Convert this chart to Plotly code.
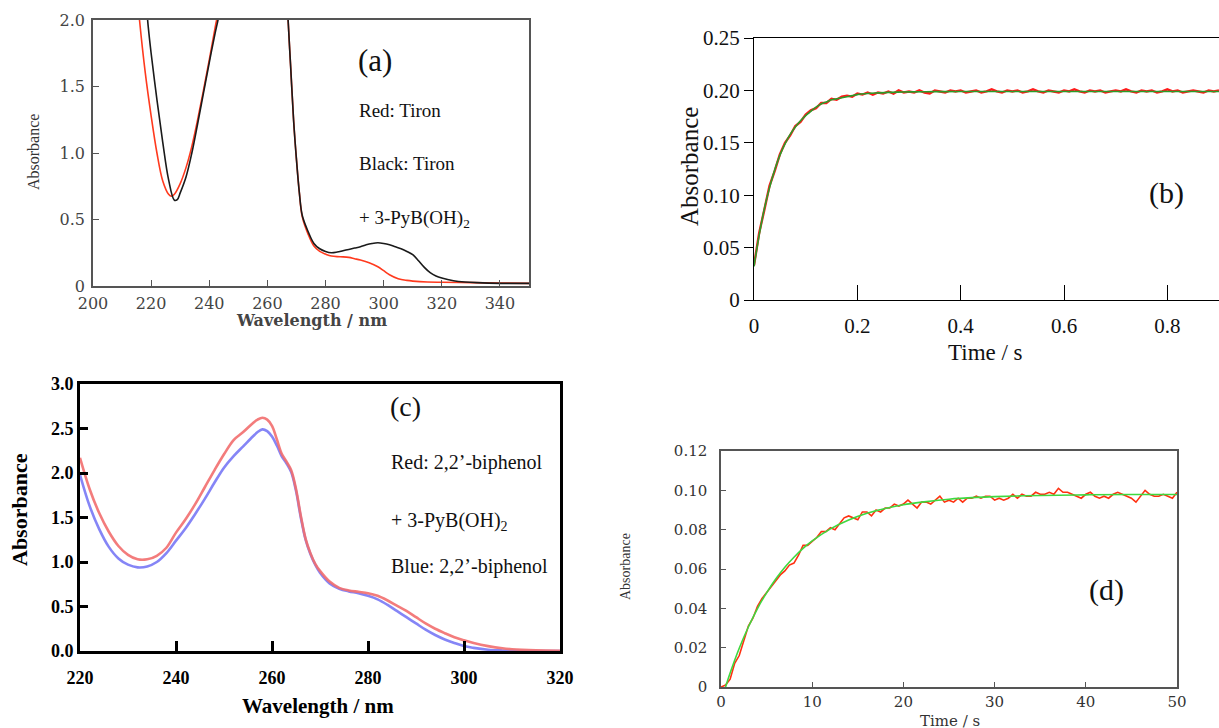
import plotly.graph_objects as go

W, H = 1219, 728

# ---------------- Panel (a): UV spectra Tiron ----------------
a_wl_red = [212, 216, 218, 220, 222, 224, 226, 227, 228, 230,
            232, 234, 236, 238, 240, 242, 243, 246, 255, 265,
            267, 268, 269, 270, 271, 272, 274, 276, 278, 280,
            282, 285, 288, 290, 292, 295, 298, 300, 302, 305,
            308, 310, 315, 320, 330, 340, 350]
a_abs_red = [3.0, 2.0, 1.6, 1.28, 1.00, 0.79, 0.69, 0.675, 0.69, 0.77,
             0.89, 1.05, 1.25, 1.47, 1.70, 1.94, 2.06, 2.5, 3.0, 3.0,
             2.05, 1.65, 1.25, 0.95, 0.70, 0.52, 0.39, 0.30, 0.26, 0.24,
             0.225, 0.22, 0.215, 0.205, 0.195, 0.175, 0.145, 0.115, 0.085, 0.055,
             0.042, 0.037, 0.03, 0.028, 0.025, 0.022, 0.02]
a_wl_black = [214, 218, 219, 220, 222, 224, 226, 228, 229, 230,
              232, 234, 236, 238, 240, 242, 243, 244, 246, 255,
              265, 267, 268, 269, 270, 271, 272, 274, 276, 278,
              280, 282, 284, 286, 288, 290, 292, 294, 296, 298,
              300, 302, 304, 306, 308, 310, 312, 314, 316, 318,
              320, 324, 328, 332, 340, 350]
a_abs_black = [3.0, 2.2, 1.95, 1.75, 1.40, 1.08, 0.80, 0.645, 0.65, 0.70,
               0.82, 1.00, 1.22, 1.45, 1.68, 1.90, 2.0, 2.12, 2.4, 3.0,
               3.0, 2.05, 1.65, 1.25, 0.95, 0.70, 0.53, 0.41, 0.32, 0.28,
               0.26, 0.25, 0.255, 0.265, 0.275, 0.285, 0.295, 0.31, 0.32, 0.325,
               0.32, 0.31, 0.295, 0.28, 0.26, 0.235, 0.19, 0.14, 0.10, 0.075,
               0.06, 0.04, 0.03, 0.025, 0.02, 0.02]
a_xticks = [200, 220, 240, 260, 280, 300, 320, 340]
a_yticks = [0, 0.5, 1.0, 1.5, 2.0]
a_ylabels = ["0", "0.5", "1.0", "1.5", "2.0"]

# ---------------- Panel (b): kinetics fast ----------------
b_raw_t = [i / 100 for i in range(91)]
b_raw_a = [0.033, 0.064, 0.086, 0.109, 0.123, 0.139, 0.150, 0.157, 0.166, 0.170,
           0.177, 0.181, 0.183, 0.188, 0.188, 0.192, 0.191, 0.194, 0.195, 0.194,
           0.197, 0.196, 0.198, 0.196, 0.198, 0.197, 0.199, 0.197, 0.200, 0.198,
           0.199, 0.198, 0.200, 0.198, 0.197, 0.200, 0.199, 0.198, 0.200, 0.199,
           0.200, 0.198, 0.199, 0.200, 0.198, 0.199, 0.201, 0.199, 0.198, 0.200,
           0.199, 0.200, 0.198, 0.199, 0.201, 0.199, 0.198, 0.200, 0.199, 0.198,
           0.200, 0.199, 0.201, 0.199, 0.198, 0.200, 0.199, 0.200, 0.198, 0.199,
           0.200, 0.199, 0.201, 0.199, 0.198, 0.200, 0.199, 0.200, 0.198, 0.199,
           0.201, 0.199, 0.200, 0.198, 0.199, 0.200, 0.199, 0.198, 0.200, 0.199,
           0.200]
b_fit_t = [0, 0.01, 0.02, 0.03, 0.04, 0.05, 0.06, 0.07, 0.08, 0.09,
           0.10, 0.11, 0.12, 0.13, 0.14, 0.15, 0.16, 0.17, 0.18, 0.19,
           0.20, 0.22, 0.24, 0.26, 0.28, 0.30, 0.35, 0.40, 0.50, 0.60,
           0.70, 0.80, 0.90]
b_fit_a = [0.032, 0.062, 0.087, 0.107, 0.124, 0.138, 0.149, 0.158, 0.165, 0.171,
           0.176, 0.180, 0.184, 0.187, 0.189, 0.191, 0.192, 0.193, 0.194, 0.195,
           0.196, 0.197, 0.1976, 0.1981, 0.1984, 0.1986, 0.1988, 0.199, 0.199, 0.199,
           0.199, 0.199, 0.199]
b_xticks = [0, 0.2, 0.4, 0.6, 0.8]
b_xlabels = ["0", "0.2", "0.4", "0.6", "0.8"]
b_yticks = [0, 0.05, 0.10, 0.15, 0.20, 0.25]
b_ylabels = ["0", "0.05", "0.10", "0.15", "0.20", "0.25"]

# ---------------- Panel (c): biphenol spectra ----------------
c_wl = [220, 222, 224, 226, 228, 230, 232, 234, 236, 238,
        240, 242, 244, 246, 248, 250, 252, 254, 256, 257,
        258, 259, 260, 261, 262, 263, 264, 265, 266, 267,
        268, 269, 270, 272, 274, 276, 278, 280, 282, 284,
        286, 288, 290, 292, 294, 296, 298, 300, 302, 305,
        308, 310, 315, 320]
c_red = [2.17, 1.82, 1.55, 1.34, 1.18, 1.08, 1.03, 1.03, 1.07, 1.16,
         1.33, 1.48, 1.65, 1.84, 2.03, 2.21, 2.37, 2.46, 2.56, 2.60,
         2.62, 2.60, 2.53, 2.38, 2.22, 2.13, 2.03, 1.82, 1.52, 1.26,
         1.10, 0.98, 0.90, 0.78, 0.71, 0.68, 0.665, 0.65, 0.62, 0.57,
         0.51, 0.45, 0.38, 0.31, 0.25, 0.20, 0.155, 0.12, 0.09, 0.055,
         0.03, 0.02, 0.008, 0.003]
c_blue = [1.98, 1.63, 1.37, 1.17, 1.04, 0.97, 0.94, 0.95, 1.00, 1.10,
          1.24, 1.38, 1.54, 1.71, 1.89, 2.06, 2.19, 2.30, 2.41, 2.46,
          2.49, 2.47, 2.41, 2.31, 2.19, 2.11, 2.01, 1.80, 1.50, 1.25,
          1.09, 0.97, 0.88, 0.76, 0.70, 0.67, 0.65, 0.62, 0.58, 0.52,
          0.45, 0.38, 0.31, 0.24, 0.18, 0.13, 0.09, 0.055, 0.035, 0.015,
          0.006, 0.003, 0.0, 0.0]
c_xticks = [220, 240, 260, 280, 300, 320]
c_yticks = [0, 0.5, 1.0, 1.5, 2.0, 2.5, 3.0]
c_ylabels = ["0.0", "0.5", "1.0", "1.5", "2.0", "2.5", "3.0"]

# ---------------- Panel (d): kinetics slow ----------------
d_raw_t = [i * 0.5 for i in range(101)]
d_raw_a = [0.000, 0.001, 0.004, 0.012, 0.016, 0.024, 0.031, 0.035, 0.041, 0.045,
           0.048, 0.051, 0.054, 0.057, 0.059, 0.062, 0.063, 0.067, 0.072, 0.072,
           0.074, 0.076, 0.079, 0.079, 0.081, 0.080, 0.083, 0.086, 0.087, 0.086,
           0.085, 0.089, 0.089, 0.087, 0.090, 0.089, 0.091, 0.091, 0.093, 0.092,
           0.093, 0.095, 0.093, 0.091, 0.094, 0.094, 0.093, 0.095, 0.097, 0.094,
           0.095, 0.094, 0.096, 0.094, 0.096, 0.096, 0.097, 0.096, 0.097, 0.097,
           0.095, 0.096, 0.095, 0.096, 0.098, 0.096, 0.098, 0.097, 0.097, 0.099,
           0.098, 0.098, 0.099, 0.098, 0.101, 0.099, 0.099, 0.098, 0.097, 0.096,
           0.098, 0.099, 0.097, 0.096, 0.097, 0.096, 0.098, 0.099, 0.098, 0.097,
           0.096, 0.094, 0.097, 0.100, 0.098, 0.097, 0.097, 0.098, 0.097, 0.096,
           0.099]
d_fit_t = [0.5, 1, 2, 3, 4, 5, 6, 7, 8, 9, 10, 12, 14, 16, 18, 20, 22, 25, 28, 30, 35, 40, 45, 50]
d_fit_a = [0.0, 0.0071, 0.0197, 0.0305, 0.0399, 0.0479, 0.0549, 0.0609, 0.0660, 0.0705,
           0.0743, 0.0804, 0.0849, 0.0883, 0.0908, 0.0927, 0.0940, 0.0955, 0.0964, 0.0968,
           0.0974, 0.0977, 0.0979, 0.0979]
d_xticks = [0, 10, 20, 30, 40, 50]
d_yticks = [0, 0.02, 0.04, 0.06, 0.08, 0.10, 0.12]
d_ylabels = ["0", "0.02", "0.04", "0.06", "0.08", "0.10", "0.12"]


def px(x):
    return x / W


def py(y):
    return 1 - y / H


fig = go.Figure()

# (a)
fig.add_trace(go.Scatter(x=a_wl_red, y=a_abs_red, mode="lines", line=dict(color="#ff3a1e", width=1.6, shape="spline"),
                         xaxis="x", yaxis="y", showlegend=False))
fig.add_trace(go.Scatter(x=a_wl_black, y=a_abs_black, mode="lines", line=dict(color="#1a1a1a", width=1.6, shape="spline"),
                         xaxis="x", yaxis="y", showlegend=False))
# (b)
fig.add_trace(go.Scatter(x=b_raw_t, y=b_raw_a, mode="lines", line=dict(color="#ff1a1a", width=2.4),
                         xaxis="x2", yaxis="y2", showlegend=False))
fig.add_trace(go.Scatter(x=b_fit_t, y=b_fit_a, mode="lines", line=dict(color="#2a9d2a", width=1.6, shape="spline"),
                         xaxis="x2", yaxis="y2", showlegend=False))
# (c)
fig.add_trace(go.Scatter(x=c_wl, y=c_blue, mode="lines", line=dict(color="rgba(120,120,245,0.9)", width=2.6, shape="spline"),
                         xaxis="x3", yaxis="y3", showlegend=False))
fig.add_trace(go.Scatter(x=c_wl, y=c_red, mode="lines", line=dict(color="rgba(242,110,110,0.9)", width=2.6, shape="spline"),
                         xaxis="x3", yaxis="y3", showlegend=False))
# (d)
fig.add_trace(go.Scatter(x=d_raw_t, y=d_raw_a, mode="lines", line=dict(color="#ff3010", width=1.6),
                         xaxis="x4", yaxis="y4", showlegend=False))
fig.add_trace(go.Scatter(x=d_fit_t, y=d_fit_a, mode="lines", line=dict(color="#3fd83f", width=1.6, shape="spline"),
                         xaxis="x4", yaxis="y4", showlegend=False))

serif = "Liberation Serif"
wide = "DejaVu Serif"

common = dict(showgrid=False, zeroline=False, showline=True, automargin=False)

fig.update_layout(
    width=W, height=H,
    margin=dict(l=0, r=0, t=0, b=0),
    paper_bgcolor="white", plot_bgcolor="white",
    # (a)
    xaxis=dict(domain=[px(93), px(529)], range=[200, 350], anchor="y", mirror=True,
               linecolor="#555", linewidth=1.5, ticks="inside", ticklen=6, tickcolor="#555",
               tickvals=a_xticks, ticklabelstandoff=2,
               tickfont=dict(family=wide, size=16, color="#444"), **common),
    yaxis=dict(domain=[py(286), py(20)], range=[0, 2.0], anchor="x", mirror=True,
               linecolor="#555", linewidth=1.5, ticks="inside", ticklen=6, tickcolor="#555",
               tickvals=a_yticks, ticktext=a_ylabels, ticklabelstandoff=3,
               tickfont=dict(family=wide, size=16, color="#444"), **common),
    # (b)
    xaxis2=dict(domain=[px(754), 1.0], range=[0, 0.9], anchor="y2", mirror=True,
                linecolor="black", linewidth=1.2, ticks="inside", ticklen=15, tickcolor="black",
                tickvals=b_xticks, ticktext=b_xlabels, ticklabelstandoff=7,
                tickfont=dict(family=serif, size=21, color="#111"), **common),
    yaxis2=dict(domain=[py(300), py(38)], range=[0, 0.25], anchor="x2",
                linecolor="black", linewidth=1.2, ticks="outside", ticklen=9, tickcolor="black",
                tickvals=b_yticks, ticktext=b_ylabels,
                tickfont=dict(family=serif, size=21, color="#111"), **common),
    # (c)
    xaxis3=dict(domain=[px(80), px(560)], range=[220, 320], anchor="y3", mirror=True,
                linecolor="black", linewidth=3, ticks="inside", ticklen=10, tickwidth=3, tickcolor="black",
                tickvals=c_xticks, ticklabelstandoff=8,
                tickfont=dict(family=serif, size=18, color="black", weight="bold"), **common),
    yaxis3=dict(domain=[py(651), py(384)], range=[0, 3.0], anchor="x3", mirror=True,
                linecolor="black", linewidth=3, ticks="inside", ticklen=8, tickwidth=3, tickcolor="black",
                tickvals=c_yticks, ticktext=c_ylabels,
                tickfont=dict(family=serif, size=18, color="black", weight="bold"), **common),
    # (d)
    xaxis4=dict(domain=[px(721), px(1177)], range=[0, 50], anchor="y4", mirror=True,
                linecolor="#555", linewidth=1.5, ticks="inside", ticklen=5, tickcolor="#555",
                tickvals=d_xticks, tickfont=dict(family=wide, size=15, color="#333"), **common),
    yaxis4=dict(domain=[py(687), py(451)], range=[0, 0.12], anchor="x4", mirror=True,
                linecolor="#555", linewidth=1.5, ticks="inside", ticklen=5, tickcolor="#555",
                tickvals=d_yticks, ticktext=d_ylabels, ticklabelstandoff=9,
                tickfont=dict(family=wide, size=15, color="#333"), **common),
)


def ann(text, x, y, size, family=serif, color="#111", xanchor="center", angle=0, bold=False):
    fig.add_annotation(text=text, x=px(x), y=py(y), xref="paper", yref="paper",
                       xanchor=xanchor, yanchor="middle", showarrow=False, textangle=angle,
                       font=dict(family=family, size=size, color=color, weight="bold" if bold else "normal"))


# (a) texts
ann("(a)", 375, 60, 31)
ann("Red: Tiron", 357, 110, 19, xanchor="left")
ann("Black: Tiron", 357, 163, 19, xanchor="left")
ann("+ 3-PyB(OH)<sub>2</sub>", 357, 219, 19, xanchor="left")
ann("Absorbance", 33, 152, 16, color="#333", angle=-90)
ann("Wavelength / nm", 311, 320, 16, family=wide, color="#444", bold=True)

# (b) texts
ann("Absorbance", 690, 167, 25, angle=-90)
ann("Time / s", 985, 352, 23)
ann("(b)", 1166, 193, 30)

# (c) texts
ann("(c)", 405, 406, 28)
ann("Red: 2,2’-biphenol", 389, 462, 20, xanchor="left")
ann("+ 3-PyB(OH)<sub>2</sub>", 389, 521, 20, xanchor="left")
ann("Blue: 2,2’-biphenol", 389, 566, 20, xanchor="left")
ann("Absorbance", 20, 510, 22, color="black", angle=-90, bold=True)
ann("Wavelength / nm", 318, 706, 21, color="black", bold=True)

# (d) texts
ann("(d)", 1106, 590, 30)
ann("Absorbance", 625, 567, 14, color="#333", angle=-90)
ann("Time / s", 950, 721, 15, family=wide, color="#333")

fig.write_html("out.html")
